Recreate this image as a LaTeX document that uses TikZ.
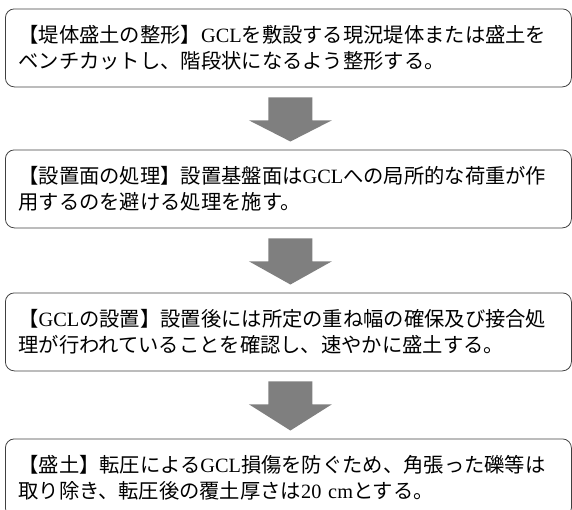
\documentclass[tikz,border=0pt]{standalone}
\usepackage{fontspec}
\setmainfont{Liberation Serif}
\newfontfamily\cjk{Noto Sans CJK JP}
\usetikzlibrary{calc}
\definecolor{arrowgray}{HTML}{7F7F7F}
\definecolor{linegray}{HTML}{404040}
\tikzset{
  stepbox/.style={draw=linegray, line width=0.8pt, rounded corners=9pt,
    anchor=north west, minimum width=566pt, minimum height=78pt,
    text width=540pt, inner xsep=13pt, inner ysep=0pt, align=left,
    font=\fontsize{20.3}{26}\selectfont\cjk},
  blockarrow/.style={fill=arrowgray, draw=none}
}
\newcommand\flowarrow[2]{%
  \fill[blockarrow] ($(#1.south)+(-20,10)$) -- ($(#1.south)+(24,10)$)
    -- ($(#1.south)+(24,33)$) -- ($(#1.south)+(43.5,33)$)
    -- ($(#2.north)+(2,-8)$) -- ($(#1.south)+(-39.5,33)$)
    -- ($(#1.south)+(-20,33)$) -- cycle;}
\begin{document}
\begin{tikzpicture}[x=1pt,y=-1pt]
\useasboundingbox (0,0) rectangle (572,509);
\clip (0,0) rectangle (572,509);
\node[stepbox] (b1) at (5,8.5) {【堤体盛土の整形】{\rmfamily GCL}を敷設する現況堤体または盛土を\\ベンチカットし、階段状になるよう整形する。};
\node[stepbox] (b2) at (5,149.5) {【設置面の処理】設置基盤面は{\rmfamily GCL}への局所的な荷重が作\\用するのを避ける処理を施す。};
\node[stepbox] (b3) at (5,292.5) {【{\rmfamily GCL}の設置】設置後には所定の重ね幅の確保及び接合処\\理が行われていることを確認し、速やかに盛土する。};
\node[stepbox] (b4) at (5,438.5) {【盛土】転圧による{\rmfamily GCL}損傷を防ぐため、角張った礫等は\\取り除き、転圧後の覆土厚さは{\rmfamily 20 cm}とする。};
\flowarrow{b1}{b2}
\flowarrow{b2}{b3}
\flowarrow{b3}{b4}
\end{tikzpicture}
\end{document}
